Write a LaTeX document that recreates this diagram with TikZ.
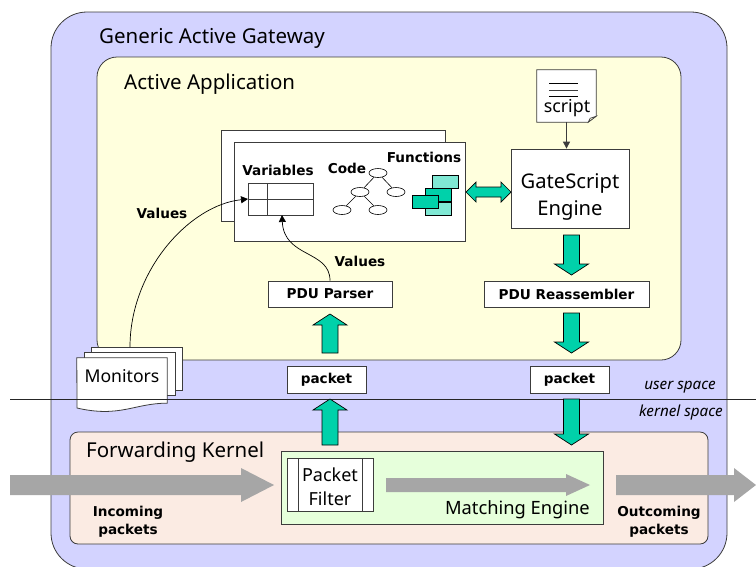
\documentclass[tikz,border=0pt]{standalone}
\usepackage{fontspec}
\setmainfont{Noto Sans}
\newfontfamily\labelfamily{DejaVu Sans}
\usepackage{xcolor}
\usepackage{tikz}
\usetikzlibrary{shapes.geometric,arrows.meta,calc}
\definecolor{gatewayblue}{RGB}{211,211,255}
\definecolor{appyellow}{RGB}{255,255,221}
\definecolor{kernelpink}{RGB}{251,235,227}
\definecolor{enginegreen}{RGB}{230,255,219}
\definecolor{arrowteal}{RGB}{0,209,170}
\definecolor{flowgray}{RGB}{166,166,166}
\definecolor{linegray}{RGB}{60,60,60}

\begin{document}
\begin{tikzpicture}[
    x=1pt, y=-1pt,
    region/.style={rectangle, draw=linegray, line width=0.8pt, inner sep=0pt},
    box/.style={rectangle, draw=linegray, fill=white, line width=0.8pt, inner sep=0pt},
    title/.style={anchor=west, inner sep=0pt, font=\fontsize{20.5}{24}\selectfont},
    boldfont/.style={font=\fontsize{13.6}{18}\selectfont\labelfamily\bfseries},
    boldlabel/.style={inner sep=0pt, align=center, boldfont},
    spacelabel/.style={inner sep=0pt, font=\fontsize{15.2}{17}\selectfont\itshape},
    treenode/.style={ellipse, draw=black, fill=white, line width=0.6pt, inner sep=0pt, minimum width=18pt, minimum height=9pt},
    funcbox/.style={rectangle, draw=black, line width=0.8pt, inner sep=0pt, minimum width=26pt, minimum height=13pt},
    thinarrow/.style={-{Triangle[length=7pt,width=7pt]}, line width=0.7pt, black},
    blockarrow/.style n args={3}{to path={
        ($(\tikztostart)!#1!90:(\tikztotarget)$)
        -- ($($(\tikztotarget)!#3!(\tikztostart)$)!#1!90:(\tikztotarget)$)
        -- ($($(\tikztotarget)!#3!(\tikztostart)$)!#2!90:(\tikztotarget)$)
        -- (\tikztotarget)
        -- ($($(\tikztotarget)!#3!(\tikztostart)$)!#2!-90:(\tikztotarget)$)
        -- ($($(\tikztotarget)!#3!(\tikztostart)$)!#1!-90:(\tikztotarget)$)
        -- ($(\tikztostart)!#1!-90:(\tikztotarget)$)
        -- cycle}},
    greenflow/.style={blockarrow={8pt}{17pt}{11pt}, draw=black, fill=arrowteal, line width=0.7pt},
    grayflow/.style={blockarrow={10pt}{17pt}{33pt}, fill=flowgray},
    smallflow/.style={blockarrow={7pt}{11pt}{24pt}, fill=flowgray}
]
\useasboundingbox (0,0) rectangle (756,566);

\node[region, fill=gatewayblue, rounded corners=36pt, minimum width=676pt, minimum height=557pt] (gateway) at (389,290.5) {};
\node[region, fill=appyellow, rounded corners=20pt, minimum width=584pt, minimum height=303pt] (app) at (389,208.5) {};
\node[region, fill=kernelpink, rounded corners=8pt, minimum width=638pt, minimum height=112pt] (kernel) at (389,488) {};
\node[region, fill=enginegreen, minimum width=322pt, minimum height=73pt] (matching) at (442,487.5) {};

\node[title] (gatewaytitle) at (99,38) {Generic Active Gateway};
\node[title] (apptitle) at (124,84) {Active Application};
\node[title] (kerneltitle) at (86,452) {Forwarding Kernel};
\node[title, anchor=east, font=\fontsize{18.3}{22}\selectfont] (matchingtitle) at (590,510) {Matching Engine};

\node[box, minimum width=224pt, minimum height=91pt] (backpanel) at (333,175.5) {};
\node[box, minimum width=231pt, minimum height=99pt] (frontpanel) at (349.5,191.5) {};

\node[boldlabel] (variables) at (278,170) {Variables};
\node[boldlabel] (code) at (347,168) {Code};
\node[boldlabel] (functions) at (424,157) {Functions};

\node[box, minimum width=65pt, minimum height=32pt] (vartable) at (280.5,199) {};
\draw[linegray, line width=0.8pt] (267,183) -- (267,215);
\draw[linegray, line width=0.8pt] (248,199) -- (313,199);

\node[treenode] (root) at (378,173) {};
\node[treenode] (midleft) at (360,192) {};
\node[treenode] (midright) at (396,192) {};
\node[treenode] (lowleft) at (342,210) {};
\node[treenode] (lowright) at (378,210) {};
\draw[line width=0.6pt] (root) -- (midleft);
\draw[line width=0.6pt] (root) -- (midright);
\draw[line width=0.6pt] (midleft) -- (lowleft);
\draw[line width=0.6pt] (midleft) -- (lowright);

\node[funcbox, fill=arrowteal!50!white] (functop) at (445,181.5) {};
\node[funcbox, fill=arrowteal!50!white] (funclow) at (438.5,208.5) {};
\node[funcbox, fill=arrowteal] (funcmid) at (438.5,195) {};
\node[funcbox, fill=arrowteal] (funcleft) at (425.5,201.5) {};

\node[box, minimum width=118pt, minimum height=79pt] (enginebox) at (570,188.5) {};
\node[inner sep=0pt, align=center, font=\fontsize{20.2}{27}\selectfont] (enginetext) at (570,196.5) {GateScript\\Engine};

\node[inner sep=0pt, minimum width=59pt, minimum height=52pt] (script) at (566.5,96) {};
\draw[fill=white, draw=linegray, line width=0.8pt] (script.north west) -- (script.north east) -- ($(script.south east)+(0,-6)$) -- ($(script.south east)+(-8,0)$) -- (script.south west) -- cycle;
\draw[fill=appyellow, draw=linegray, line width=0.6pt] ($(script.south east)+(0,-6)$) -- ($(script.south east)+(-6,-4)$) -- ($(script.south east)+(-8,0)$) -- cycle;
\draw[line width=0.7pt] (549,83) -- (578,83);
\draw[line width=0.7pt, linegray] (549,90) -- (578,90);
\draw[line width=0.7pt] (549,96) -- (578,96);
\node[inner sep=0pt, font=\fontsize{17.8}{20}\selectfont] (scripttext) at (567,108) {script};
\draw[thinarrow, line width=1pt, linegray] (script.south) -- (script.south |- enginebox.north);

\node[box, minimum width=124pt, minimum height=26pt, boldfont] (parser) at (330,294) {PDU Parser};
\node[box, minimum width=165pt, minimum height=26pt, boldfont] (reassembler) at (566.5,294) {PDU Reassembler};
\node[box, minimum width=79pt, minimum height=27pt, boldfont] (packetin) at (326.5,379.5) {packet};
\node[box, minimum width=79pt, minimum height=27pt, boldfont] (packetout) at (569.5,379.5) {packet};

\node[box, minimum width=86pt, minimum height=53pt] (filter) at (330,484.5) {};
\node[inner sep=0pt, align=center, font=\fontsize{18}{24}\selectfont] (filtertext) at (330,487) {Packet\\Filter};
\draw[linegray, line width=0.8pt] (298,458) -- (298,511);
\draw[linegray, line width=0.8pt] (362,458) -- (362,511);

\node[box, minimum width=91pt, minimum height=43pt] (monback) at (136.5,368.5) {};
\node[box, minimum width=91pt, minimum height=43pt] (monmid) at (129.5,373.5) {};
\node[inner sep=0pt, minimum width=90pt, minimum height=45pt] (monitors) at (122,380.5) {};
\draw[fill=white, draw=linegray, line width=0.8pt] (monitors.north west) -- (monitors.north east) -- (monitors.south east) .. controls (135,403) and (120,418) .. (77,408) -- cycle;
\node[inner sep=0pt, font=\fontsize{17.6}{20}\selectfont] (monitorstext) at (122,376) {Monitors};

\node[boldlabel] (valuesleft) at (162,213) {Values};
\node[boldlabel] (valuesright) at (360,261) {Values};
\node[boldlabel] (incoming) at (128,522) {Incoming\\packets};
\node[boldlabel] (outcoming) at (659,522) {Outcoming\\packets};
\node[spacelabel, anchor=east] (userspace) at (716,387) {user space};
\node[spacelabel, anchor=east] (kernelspace) at (723,413) {kernel space};

\coordinate (lineleft) at (10,399);
\coordinate (lineright) at (756,399);
\draw[line width=0.9pt, black!85] (lineleft) -- (lineright);

\coordinate (valuesstart) at (130,347);
\coordinate (tablein) at (248,199);
\coordinate (tableout) at (282,215);
\draw[thinarrow] (valuesstart) .. controls (130,270) and (190,205) .. (tablein);
\draw[thinarrow] (parser.north) .. controls (330,250) and (284,258) .. (tableout);

\coordinate (incomingstart) at (10,485);
\coordinate (incomingend) at (274,485);
\coordinate (scanstart) at (386,485);
\coordinate (scanend) at (590,485);
\coordinate (outcomingstart) at (616,485);
\coordinate (outcomingend) at (756,485);
\path[grayflow] (incomingstart) to (incomingend);
\path[smallflow] (scanstart) to (scanend);
\path[grayflow, blockarrow={10pt}{17pt}{22pt}] (outcomingstart) to (outcomingend);

\coordinate (upstart) at (330,445);
\coordinate (upend) at (330,399);
\coordinate (parserin) at (330,353);
\coordinate (parserout) at (330,314);
\coordinate (enginedown) at (571.5,235);
\coordinate (enginetip) at (571.5,275);
\coordinate (asmdown) at (571.5,313);
\coordinate (asmtip) at (571.5,353);
\coordinate (kerneldown) at (571.5,399);
\coordinate (kerneltip) at (571.5,445);
\draw[greenflow] (upstart) to (upend);
\draw[greenflow] (parserin) to (parserout);
\draw[greenflow] (enginedown) to (enginetip);
\draw[greenflow] (asmdown) to (asmtip);
\draw[greenflow] (kerneldown) to (kerneltip);

\coordinate (dblleft) at (466,192);
\coordinate (dblright) at (511,192);
\draw[draw=black, fill=arrowteal, line width=0.7pt] (dblleft) -- ++(10,-10) -- ++(0,5) -- ++(25,0) -- ++(0,-5) -- (dblright) -- ++(-10,10) -- ++(0,-5) -- ++(-25,0) -- ++(0,5) -- cycle;
\end{tikzpicture}
\end{document}
